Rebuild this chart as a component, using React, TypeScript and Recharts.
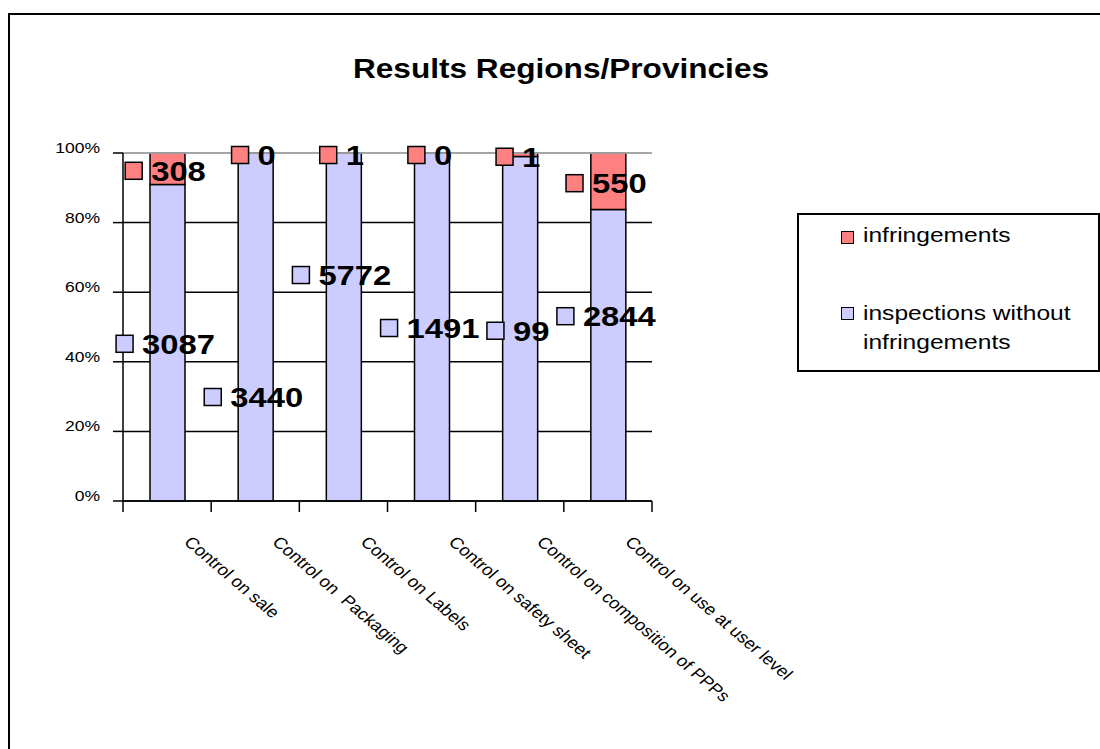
import { BarChart, Bar, XAxis, YAxis, CartesianGrid, ReferenceLine, LabelList, Legend } from 'recharts';

const categories = [
  'Control on sale',
  'Control on  Packaging',
  'Control on Labels',
  'Control on safety sheet',
  'Control on composition of PPPs',
  'Control on use at user level',
];
const infringements = [308, 0, 1, 0, 1, 550];
const withoutInfringements = [3087, 3440, 5772, 1491, 99, 2844];
const percentTicks = [0, 0.2, 0.4, 0.6, 0.8, 1];

// a few of the labels were dragged away from the middle of their bar
const inspLabelNudge = [1, 70, -52, 1, 2, -39];
const infrLabelNudge = [2, 2, 2, 2, 2, 2];

const data = categories.map((name, i) => ({
  name,
  inspections: withoutInfringements[i],
  infringements: infringements[i],
}));

const FONT = '"Liberation Sans", Arial, Helvetica, sans-serif';
const RED = '#FF8080';
const BLUE = '#CCCCFF';
// the original export is stretched sideways, text included
const SX = 1.17;

const W = 1100;
const H = 749;
const PLOT = { left: 123, right: 652, top: 153, bottom: 501 };
const Y_AXIS_W = 60;
const X_AXIS_H = 60;

function makeLabel(values: number[], fill: string, nudge: number[]) {
  return (props: any) => {
    const { x, y, width, height, index, value } = props;
    const v = typeof value === 'number' ? value : values[index];
    const txt = String(v);
    const fs = 28;
    const key = 17;
    const gap = 9;
    const textW = txt.length * fs * 0.556 * SX;
    const groupW = key + gap + textW;
    const cx = Number(x) + Number(width) / 2;
    const cy = Number(y) + Number(height) / 2 + nudge[index];
    const left = cx - groupW / 2 - 2;
    return (
      <g>
        <rect x={left} y={cy - key / 2} width={key} height={key} fill={fill} stroke="#000" strokeWidth={1.5} />
        <text
          transform={`translate(${left + key + gap}, ${cy}) scale(${SX}, 1)`}
          dominantBaseline="central"
          fontFamily={FONT}
          fontWeight="bold"
          fontSize={fs}
          fill="#000"
        >
          {txt}
        </text>
      </g>
    );
  };
}

function CategoryTick(props: any) {
  const { x, y, payload, index } = props;
  const half = (PLOT.right - PLOT.left) / categories.length / 2;
  const axisY = y - 10;
  const lx = x + 16;
  const ly = y + 32;
  return (
    <g>
      <line x1={x - half} y1={axisY} x2={x - half} y2={axisY + 11} stroke="#000" strokeWidth={1.5} />
      {index === categories.length - 1 && (
        <line x1={x + half} y1={axisY} x2={x + half} y2={axisY + 11} stroke="#000" strokeWidth={1.5} />
      )}
      <text
        transform={`translate(${lx}, ${ly}) scale(${SX}, 1) rotate(45)`}
        fontFamily={FONT}
        fontSize={16}
        fill="#000"
        style={{ whiteSpace: 'pre' }}
      >
        {payload.value}
      </text>
    </g>
  );
}

function PercentTick(props: any) {
  const { x, y, payload } = props;
  return (
    <text
      transform={`translate(${x - 11}, ${y}) scale(${SX}, 1)`}
      textAnchor="end"
      fontFamily={FONT}
      fontSize={15}
      fill="#000"
    >
      {Math.round(payload.value * 100)}%
    </text>
  );
}

function LegendBox() {
  const txt = {
    position: 'absolute' as const,
    left: 64,
    fontSize: 21,
    lineHeight: '29px',
    color: '#000',
    whiteSpace: 'nowrap' as const,
    transform: `scaleX(${SX})`,
    transformOrigin: 'left top',
  };
  const sq = (bg: string, top: number) => ({
    position: 'absolute' as const,
    left: 42,
    top,
    width: 13,
    height: 13,
    background: bg,
    border: '1.5px solid #000',
    boxSizing: 'border-box' as const,
  });
  return (
    <div style={{ position: 'relative', width: 303, height: 159, border: '2px solid #000', boxSizing: 'border-box', background: '#fff', fontFamily: FONT }}>
      <div style={sq(RED, 16)} />
      <div style={{ ...txt, top: 5 }}>infringements</div>
      <div style={sq(BLUE, 92)} />
      <div style={{ ...txt, top: 83 }}>
        inspections without
        <br />
        infringements
      </div>
    </div>
  );
}

export default function App() {
  return (
    <div style={{ position: 'absolute', left: 0, top: 0, width: W, height: H, overflow: 'hidden', background: '#fff' }}>
      <div style={{ position: 'absolute', left: 8, top: 13, width: 1300, height: 1000, border: '2px solid #000' }} />
      <div
        style={{
          position: 'absolute',
          left: 0,
          width: 1122,
          top: 55,
          textAlign: 'center',
          fontFamily: FONT,
          fontWeight: 'bold',
          fontSize: 27,
          lineHeight: '28px',
          color: '#000',
          transform: `scaleX(${SX})`,
          transformOrigin: 'center',
        }}
      >
        Results Regions/Provincies
      </div>
      <div style={{ position: 'absolute', left: 0, top: 0 }}>
        <BarChart
          width={W}
          height={H}
          data={data}
          stackOffset="expand"
          margin={{
            left: PLOT.left - Y_AXIS_W,
            right: W - PLOT.right,
            top: PLOT.top,
            bottom: H - PLOT.bottom - X_AXIS_H,
          }}
        >
          <CartesianGrid vertical={false} stroke="#000" strokeWidth={1.5} />
          <ReferenceLine y={1} stroke="#c8c8c8" strokeWidth={1.5} />
          <XAxis
            dataKey="name"
            height={X_AXIS_H}
            interval={0}
            axisLine={{ stroke: '#000', strokeWidth: 1.5 }}
            tickLine={false}
            tickSize={10}
            tickMargin={0}
            tick={<CategoryTick />}
          />
          <YAxis
            width={Y_AXIS_W}
            type="number"
            domain={[0, 1]}
            ticks={percentTicks}
            interval={0}
            axisLine={{ stroke: '#000', strokeWidth: 1.5 }}
            tickLine={{ stroke: '#000', strokeWidth: 1.5 }}
            tickSize={10}
            tickMargin={2}
            tick={<PercentTick />}
          />
          <Legend
            layout="vertical"
            align="center"
            verticalAlign="middle"
            wrapperStyle={{ left: 797, top: 213, width: 303, height: 159 }}
            content={() => <LegendBox />}
          />
          <Bar dataKey="inspections" name="inspections without infringements" stackId="s" fill={BLUE} stroke="#000" strokeWidth={1.5} barSize={35} isAnimationActive={false}>
            <LabelList dataKey="inspections" content={makeLabel(withoutInfringements, BLUE, inspLabelNudge)} />
          </Bar>
          <Bar dataKey="infringements" name="infringements" stackId="s" fill={RED} stroke="#000" strokeWidth={1.5} barSize={35} minPointSize={0.01} isAnimationActive={false}>
            <LabelList dataKey="infringements" content={makeLabel(infringements, RED, infrLabelNudge)} />
          </Bar>
        </BarChart>
      </div>
    </div>
  );
}
